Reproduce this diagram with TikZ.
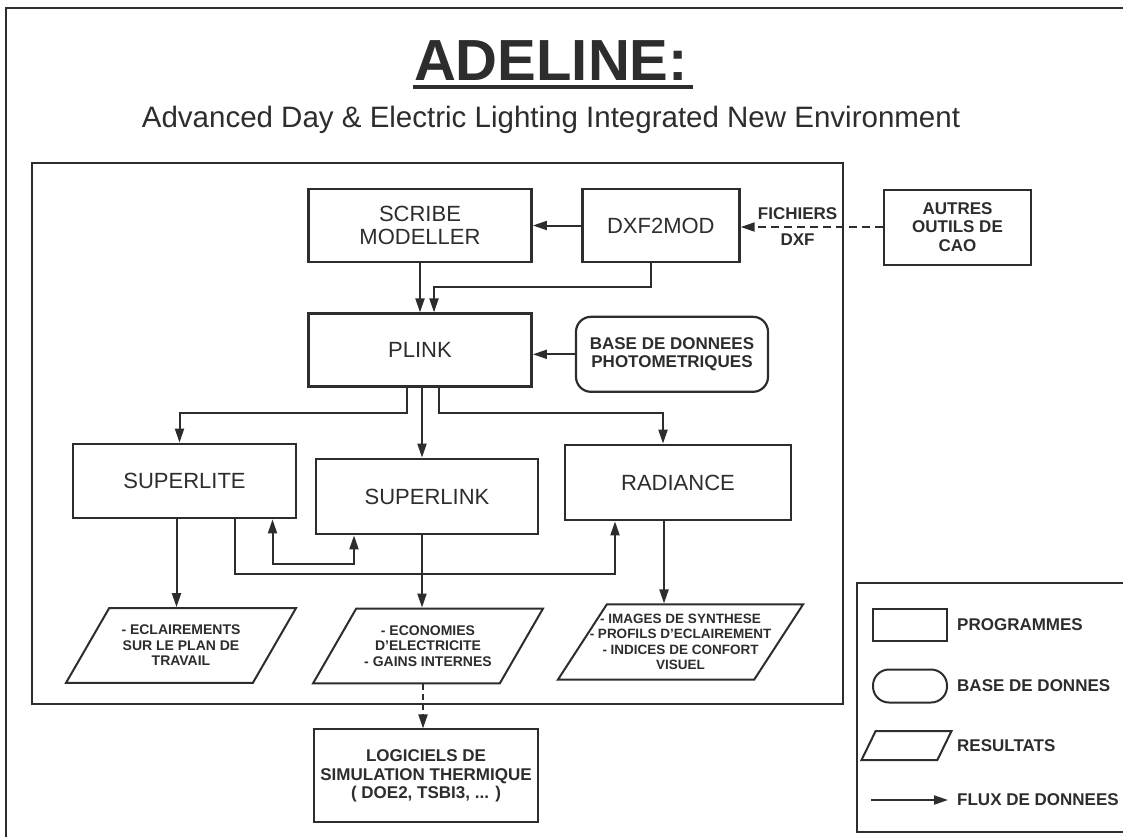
\documentclass[tikz,border=0pt]{standalone}
\usepackage{fontspec}
\setmainfont{Liberation Sans}
\usetikzlibrary{shapes.geometric,arrows.meta,positioning,calc}
\definecolor{adink}{RGB}{45,45,45}

\begin{document}
\begin{tikzpicture}[x=1pt,y=-1pt,
    >={Triangle[length=14pt,width=9pt]},
    prog/.style={draw=adink,line width=2.8pt,minimum width=223pt,minimum height=73pt,
                 align=center,text=adink,font=\fontsize{22}{23}\selectfont},
    tool/.style={draw=adink,line width=2pt,align=center,text=adink,
                 font=\fontsize{17}{18.5}\selectfont\bfseries},
    dbase/.style={tool,rounded corners=15pt,line width=2.2pt},
    result/.style={trapezium,trapezium left angle=60,trapezium right angle=120,
                   trapezium stretches body,draw=adink,line width=2pt,
                   align=center,inner xsep=0pt,inner ysep=17pt,
                   text=adink,font=\fontsize{14}{15.5}\selectfont\bfseries},
    arr/.style={->,line width=2pt,adink},
    arrboth/.style={<->,line width=2pt,adink},
    lbl/.style={text=adink,font=\fontsize{17}{19}\selectfont\bfseries,inner sep=1pt},
    frame/.style={draw=adink,line width=2pt}
  ]
  \useasboundingbox (0,0) rectangle (1123,836);
  \fill[white] (0,0) rectangle (1123,836);

  % frames
  \draw[frame] (6,8) rectangle (1140,850);
  \draw[frame] (32,163) rectangle (843,704);
  \draw[frame] (857,583) rectangle (1140,832);

  % title
  \node[anchor=base,inner sep=0pt,text=adink,font=\fontsize{58}{60}\selectfont\bfseries]
    (title) at (551,80) {ADELINE:};
  \draw[adink,line width=4pt] ([xshift=-1pt,yshift=-7pt]title.base west)
    -- ([xshift=5pt,yshift=-7pt]title.base east);
  \node[anchor=base,inner sep=0pt,text=adink,font=\fontsize{29.5}{31}\selectfont]
    (subtitle) at (551,127) {Advanced Day \& Electric Lighting Integrated New Environment};

  % programmes
  \node[prog] (scribe) at (420,225.5) {SCRIBE\\MODELLER};
  \node[prog,minimum width=157pt,right=48pt of scribe] (dxf) {DXF2MOD};
  \node[tool,minimum width=147pt,minimum height=75pt] (autres) at (957.5,227)
    {AUTRES\\OUTILS DE\\CAO};
  \node[prog,below=49pt of scribe] (plink) {PLINK};
  \node[dbase,minimum width=192pt,minimum height=75pt,right=42pt of plink,yshift=-4pt]
    (base) {BASE DE DONNEES\\PHOTOMETRIQUES};
  \node[prog,minimum height=74pt] (superlite) at (184.5,481) {SUPERLITE};
  \node[prog,minimum width=222pt,minimum height=75pt] (superlink) at (427,496.5) {SUPERLINK};
  \node[prog,minimum width=226pt,minimum height=75pt] (radiance) at (678,482.5) {RADIANCE};

  % resultats
  \node[result,minimum width=230pt] (res1) at (181,645.5)
    {- ECLAIREMENTS\\SUR LE PLAN DE\\TRAVAIL};
  \node[result,minimum width=230pt] (res2) at (428,646)
    {- ECONOMIES\\D'ELECTRICITE\\- GAINS INTERNES};
  \node[result,minimum width=245pt,inner xsep=-21pt,inner ysep=9.5pt,
        font=\fontsize{13.5}{15.5}\selectfont\bfseries,
        trapezium left angle=57,trapezium right angle=123] (res3) at (680.5,642)
    {- IMAGES DE SYNTHESE\\- PROFILS D'ECLAIREMENT\\- INDICES DE CONFORT\\VISUEL};
  \node[tool,minimum width=224pt,minimum height=93pt,below=44pt of res2,xshift=-2pt]
    (logi) {LOGICIELS DE\\SIMULATION THERMIQUE\\( DOE2, TSBI3, ... )};

  % flux
  \draw[arr] (dxf) -- (scribe);
  \draw[arr,dash pattern=on 8pt off 5pt] (autres.west) -- (autres.west -| dxf.east)
    node[lbl,above,pos=0.6,yshift=5pt] (fichiers) {FICHIERS}
    node[lbl,below,pos=0.6,yshift=-5pt] (dxffiles) {DXF};
  \draw[arr] (scribe) -- (plink);
  \draw[arr] ([xshift=-10pt]dxf.south) -- ++(0,24) -| ([xshift=14pt]plink.north);
  \draw[arr] (base.west) -- (base.west -| plink.east);
  \draw[arr] ([xshift=-13pt]plink.south) -- ++(0,25) -| ([xshift=-5pt]superlite.north);
  \draw[arr] ([xshift=2pt]plink.south) -- ([xshift=2pt]plink.south |- superlink.north);
  \draw[arr] ([xshift=19pt]plink.south) -- ++(0,25) -| ([xshift=-15pt]radiance.north);
  \draw[arr] ([xshift=-8pt]superlite.south) -- ([xshift=-8pt]superlite.south |- res1.north);
  \draw[arrboth] ([xshift=88pt]superlite.south) -- ++(0,45) -| ([xshift=-73pt]superlink.south);
  \draw[arr] ([xshift=50pt]superlite.south) -- ++(0,55) -| ([xshift=-63pt]radiance.south);
  \draw[arr] ([xshift=-5pt]superlink.south) -- ([xshift=-5pt]superlink.south |- res2.north);
  \draw[arr] ([xshift=-14pt]radiance.south) -- ([xshift=-14pt]radiance.south |- res3.north);
  \draw[arr,dash pattern=on 6pt off 4pt] ([xshift=-5pt]res2.south)
    -- ([xshift=-5pt]res2.south |- logi.north);

  % legende
  \node[draw=adink,line width=2pt,minimum width=74pt,minimum height=32pt] (lgprog) at (910,624.5) {};
  \node[lbl,right=8pt of lgprog] (lgprogtxt) {PROGRAMMES};
  \node[draw=adink,line width=2pt,rounded corners=16pt,minimum width=74pt,minimum height=33pt]
    (lgbase) at (910,686) {};
  \node[lbl,right=8pt of lgbase] (lgbasetxt) {BASE DE DONNES};
  \node[result,minimum width=90pt,inner ysep=14.5pt,
        trapezium left angle=64,trapezium right angle=116] (lgres) at (906.5,745.5) {};
  \node[lbl,anchor=west] (lgrestxt) at (lgres.east -| lgbasetxt.west) {RESULTATS};
  \coordinate (lgflowa) at (871,800);
  \coordinate (lgflowb) at (948,800);
  \draw[arr] (lgflowa) -- (lgflowb);
  \node[lbl,right=8pt of lgflowb] (lgflowtxt) {FLUX DE DONNEES};
\end{tikzpicture}
\end{document}
